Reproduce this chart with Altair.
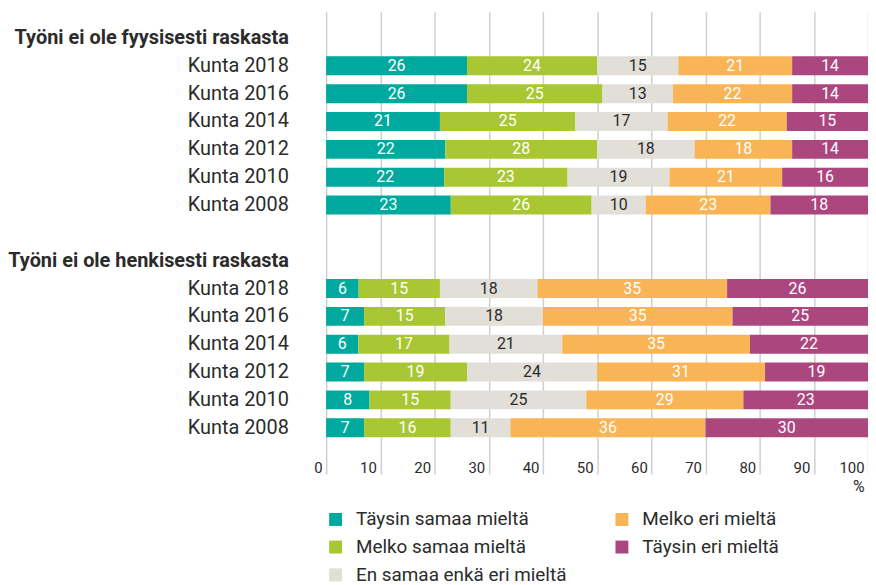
import altair as alt
import pandas as pd

# ---- data ----
groups = ["Työni ei ole fyysisesti raskasta", "Työni ei ole henkisesti raskasta"]
years = ["Kunta 2018", "Kunta 2016", "Kunta 2014", "Kunta 2012", "Kunta 2010", "Kunta 2008"]
categories = ["Täysin samaa mieltä", "Melko samaa mieltä", "En samaa enkä eri mieltä",
              "Melko eri mieltä", "Täysin eri mieltä"]
colors = ["#00A99E", "#A9C733", "#E1DFD8", "#F9B455", "#AC467F"]

fyysisesti = [
    [26, 24, 15, 21, 14],
    [26, 25, 13, 22, 14],
    [21, 25, 17, 22, 15],
    [22, 28, 18, 18, 14],
    [22, 23, 19, 21, 16],
    [23, 26, 10, 23, 18],
]
henkisesti = [
    [6, 15, 18, 35, 26],
    [7, 15, 18, 35, 25],
    [6, 17, 21, 35, 22],
    [7, 19, 24, 31, 19],
    [8, 15, 25, 29, 23],
    [7, 16, 11, 36, 30],
]
ticks = [0, 10, 20, 30, 40, 50, 60, 70, 80, 90, 100]

# ---- table ----
row_order = []
records = []
for gi, (g, series) in enumerate(zip(groups, [fyysisesti, henkisesti])):
    if gi > 0:
        row_order.append("-")
    row_order.append(g)
    for y, vals in zip(years, series):
        key = f"{gi}|{y}"
        row_order.append(key)
        for ci, (c, v) in enumerate(zip(categories, vals)):
            records.append({"row": key, "cat": c, "ord": ci, "value": v})
df = pd.DataFrame(records)

FONT = "Roboto"
TXT = "#2b2b2b"
W, H = 545, 428

label_expr = ("indexof(datum.value, '|') >= 0 ? split(datum.value, '|')[1] : "
              "(datum.value == '-' ? '' : datum.value)")
is_header = "indexof(datum.value, '|') < 0"

y_enc = alt.Y(
    "row:N", sort=row_order, title=None,
    scale=alt.Scale(domain=row_order, paddingInner=0.32, paddingOuter=0.303, align=1),
    axis=alt.Axis(
        labelExpr=label_expr, domain=False, ticks=False, labelPadding=38, labelLimit=400,
        labelFont=FONT, labelColor=TXT,
        labelFontWeight={"condition": {"test": is_header, "value": "bold"}, "value": "normal"},
        labelFontSize={"condition": {"test": is_header, "value": 20}, "value": 20},
    ),
)

base = (
    alt.Chart(df)
    .transform_joinaggregate(total="sum(value)", groupby=["row"])
    .transform_calculate(pct="datum.value / datum.total * 100")
    .transform_stack(stack="pct", groupby=["row"], as_=["x0", "x1"],
                     sort=[alt.SortField("ord", order="ascending")])
    .transform_calculate(mid="(datum.x0 + datum.x1) / 2")
)

x_enc = alt.X(
    "x0:Q", title="%",
    scale=alt.Scale(domain=[0, 100], nice=False, zero=True),
    axis=alt.Axis(
        values=ticks, domain=False, grid=True, gridColor="#cfcfcf", gridWidth=1.5,
        tickColor="#cfcfcf", tickWidth=1.5, tickSize=37,
        labelAlign="right", labelBaseline="alphabetic", labelPadding=-1, labelOffset=-4,
        labelFlush=False, labelFont=FONT, labelFontSize=15, labelColor=TXT,
        titleFont=FONT, titleFontSize=16, titleFontWeight="normal", titleColor=TXT,
        titleX=W - 4, titleY=55, titleAlign="right", titleBaseline="alphabetic", titleAngle=0,
    ),
)

bars = base.mark_bar(cornerRadius=0).encode(
    y=y_enc,
    x=x_enc,
    x2="x1:Q",
    color=alt.Color(
        "cat:N",
        scale=alt.Scale(domain=categories, range=colors),
        legend=alt.Legend(
            title=None, orient="none", legendX=0, legendY=501, columns=2,
            symbolType="square", symbolSize=169, symbolStrokeWidth=0, symbolOpacity=1,
            labelFont=FONT, labelFontSize=19, labelColor=TXT, labelOffset=11,
            rowPadding=8, columnPadding=46, labelLimit=400,
        ),
    ),
)

labels = base.mark_text(font=FONT, fontSize=16, baseline="middle", align="center").encode(
    y=alt.Y("row:N", sort=row_order),
    x=alt.X("mid:Q"),
    text=alt.Text("value:Q"),
    color=alt.condition(
        f"datum.cat == '{categories[2]}'", alt.value("#2b2b2b"), alt.value("white")
    ),
)

chart = (
    alt.layer(bars, labels)
    .properties(
        width=W, height=H,
        autosize=alt.AutoSizeParams(type="none"),
        padding={"left": 320, "top": 2, "right": 0, "bottom": 150},
    )
    .configure_view(stroke=None)
)

chart.save("out.html", embed_options={"renderer": "svg", "actions": False})
